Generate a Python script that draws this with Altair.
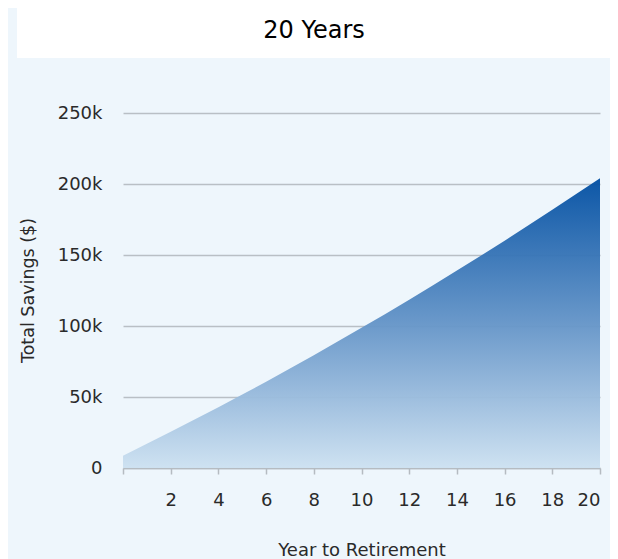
import altair as alt
import pandas as pd

# ---- data ----
years = [0, 1, 2, 3, 4, 5, 6, 7, 8, 9, 10, 11, 12, 13, 14, 15, 16, 17, 18, 19, 20]
savings = [8700, 17000, 25500, 34100, 42800, 51700, 60800, 70000, 79400, 89000,
           98700, 108500, 118500, 128700, 139000, 149500, 160100, 170900, 181800,
           192900, 204100]
y_ticks = [0, 50000, 100000, 150000, 200000, 250000]
x_ticks = [0, 2, 4, 6, 8, 10, 12, 14, 16, 18, 20]
chart_title = "20 Years"
x_title = "Year to Retirement"
y_title = "Total Savings ($)"

df = pd.DataFrame({"year": years, "savings": savings})
title_df = pd.DataFrame({"t": [chart_title]})

FONT = "DejaVu Sans"
BG = "#EEF6FC"

area = alt.Chart(df).mark_area(
    fillOpacity=0.96,
    color=alt.Gradient(
        gradient="linear",
        x1=0, x2=0, y1=0, y2=1,
        stops=[
            alt.GradientStop(color="#0350A3", offset=0),
            alt.GradientStop(color="#6595C8", offset=0.5),
            alt.GradientStop(color="#CDE1F1", offset=1),
        ],
    ),
).encode(
    x=alt.X(
        "year:Q",
        scale=alt.Scale(domain=[0, 20], nice=False),
        axis=alt.Axis(
            values=x_ticks,
            labelExpr="datum.value == 0 ? '' : datum.label",
            grid=False,
            domainColor="#B5BBC1",
            domainWidth=1.5,
            tickColor="#B5BBC1",
            tickWidth=1.5,
            tickSize=6,
            labelPadding=17,
            labelFont=FONT,
            labelFontSize=18,
            labelColor="#2A2A2A",
            title=x_title,
            titleFont=FONT,
            titleFontSize=18,
            titleFontWeight="normal",
            titleColor="#2A2A2A",
            titleX=238.5,
            titleY=87,
            titleAlign="center",
            titleBaseline="alphabetic",
        ),
    ),
    y=alt.Y(
        "savings:Q",
        scale=alt.Scale(domain=[0, 250000], nice=False),
        axis=alt.Axis(
            values=y_ticks,
            labelExpr="datum.value == 0 ? '0' : (datum.value / 1000) + 'k'",
            grid=True,
            gridColor="#B9BFC5",
            gridWidth=1.5,
            domain=False,
            ticks=False,
            labelPadding=21,
            labelFont=FONT,
            labelFontSize=18,
            labelColor="#2A2A2A",
            title=y_title,
            titleFont=FONT,
            titleFontSize=17.5,
            titleFontWeight="normal",
            titleColor="#2A2A2A",
            titleAngle=270,
            titleX=-95,
            titleY=177,
            titleAlign="center",
            titleBaseline="middle",
        ),
    ),
)

title_box = alt.Chart(title_df).mark_rect(color="white").encode(
    x=alt.value(-106), x2=alt.value(495), y=alt.value(-105), y2=alt.value(-55)
)
title_text = alt.Chart(title_df).mark_text(
    font=FONT, fontSize=24, color="#000000",
    align="center", baseline="alphabetic"
).encode(
    x=alt.value(191), y=alt.value(-75.5), text="t:N"
)

chart = alt.layer(title_box, area, title_text).properties(
    width=477,
    height=355,
    autosize=alt.AutoSizeParams(type="none"),
    padding={"left": 115, "top": 105, "right": 10, "bottom": 100},
    background=BG,
).configure_view(stroke=None)

chart.save("out.html", embed_options={"renderer": "svg", "actions": False})
